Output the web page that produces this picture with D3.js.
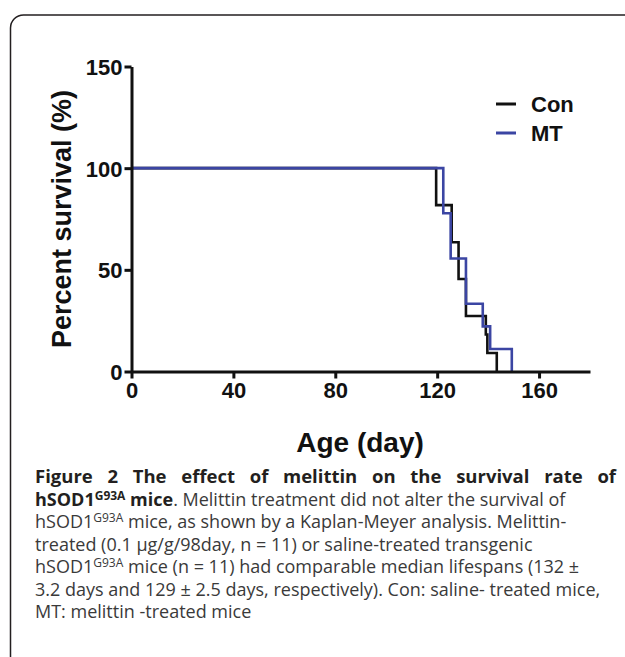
<!DOCTYPE html>
<html>
<head>
<meta charset="utf-8">
<script src="https://cdn.jsdelivr.net/npm/d3@7/dist/d3.min.js"></script>
<style>
  body { margin: 0; background: #fff; }
  svg { display: block; }
  .axis path, .axis line { stroke: #111; stroke-width: 3; }
  .axis text { font-family: "Liberation Sans", Arial, sans-serif; font-weight: bold; font-size: 22px; fill: #111; }
  .caption { font-family: "Open Sans", sans-serif; font-size: 18px; fill: #3a3a3a; }
  .caption .b { font-weight: bold; fill: #231f20; }
  .caption .sup { font-size: 12px; }
</style>
</head>
<body>
<div id="chart"></div>
<script>
// survival steps (day of drop, survival % before/after)
var conDays = [0, 119.6, 125.7, 128.4, 131.3, 139.1, 139.7, 143.4];
var conSurvival = [100, 81.8, 63.6, 45.5, 27.3, 18.2, 9.1, 0];
var mtDays = [0, 122.4, 125.3, 131.3, 137.9, 140.8, 149.3];
var mtSurvival = [100, 77.8, 55.6, 33.3, 22.2, 11.1, 0];

var xTicks = [0, 40, 80, 120, 160];
var yTicks = [0, 50, 100, 150];
var seriesNames = ["Con", "MT"];
var seriesColors = ["#111111", "#3b45a3"];

var width = 625;
var height = 657;

var svg = d3.select("#chart")
    .append("svg")
    .attr("width", width)
    .attr("height", height);

// frame with the rounded top-left corner
svg.append("path")
    .attr("d", "M10.5," + (height + 2) + " V28 A13,13 0 0 1 23.5,15 H" + (width + 2))
    .attr("fill", "none")
    .attr("stroke", "#231f20")
    .attr("stroke-width", 1.5);

var xScale = d3.scaleLinear()
    .domain([0, 180])
    .range([131.5, 590]);

var yScale = d3.scaleLinear()
    .domain([0, 150])
    .range([371.5, 66.5]);

// zip days/survival into step points
function steps(days, surv) {
    return days.map(function (d, i) { return { day: d, s: surv[i] }; });
}

var line = d3.line()
    .x(function (d) { return xScale(d.day); })
    .y(function (d) { return yScale(d.s); })
    .curve(d3.curveStepAfter);

var series = [steps(conDays, conSurvival), steps(mtDays, mtSurvival)];

svg.selectAll(".km")
    .data(series)
    .enter()
    .append("path")
    .attr("class", "km")
    .attr("d", line)
    .attr("fill", "none")
    .attr("stroke", function (d, i) { return seriesColors[i]; })
    .attr("stroke-width", 2.6);

var xAxis = svg.append("g")
    .attr("class", "axis")
    .attr("transform", "translate(0," + yScale(0) + ")")
    .call(d3.axisBottom(xScale).tickValues(xTicks).tickSize(7).tickSizeOuter(0).tickPadding(4));

var yAxis = svg.append("g")
    .attr("class", "axis")
    .attr("transform", "translate(" + xScale(0) + ",0)")
    .call(d3.axisLeft(yScale).tickValues(yTicks).tickSize(7).tickSizeOuter(0).tickPadding(2));

yAxis.selectAll("text").attr("dy", "0.36em");

svg.append("text")
    .attr("transform", "translate(71," + 219 + ") rotate(-90)")
    .attr("text-anchor", "middle")
    .style("font-family", "Liberation Sans, Arial, sans-serif")
    .style("font-weight", "bold")
    .style("font-size", "27px")
    .style("fill", "#111")
    .text("Percent survival (%)");

svg.append("text")
    .attr("x", 360)
    .attr("y", 452)
    .attr("text-anchor", "middle")
    .style("font-family", "Liberation Sans, Arial, sans-serif")
    .style("font-weight", "bold")
    .style("font-size", "28px")
    .style("fill", "#111")
    .text("Age (day)");

// legend
var legend = svg.append("g").attr("transform", "translate(496,104)");

legend.selectAll("line")
    .data(seriesNames)
    .enter()
    .append("line")
    .attr("x1", 0)
    .attr("x2", 20)
    .attr("y1", function (d, i) { return i * 29; })
    .attr("y2", function (d, i) { return i * 29; })
    .attr("stroke", function (d, i) { return seriesColors[i]; })
    .attr("stroke-width", 3);

legend.selectAll("text")
    .data(seriesNames)
    .enter()
    .append("text")
    .attr("x", 35)
    .attr("y", function (d, i) { return i * 29 + 8; })
    .style("font-family", "Liberation Sans, Arial, sans-serif")
    .style("font-weight", "bold")
    .style("font-size", "22px")
    .style("fill", "#111")
    .text(function (d) { return d; });

// caption
var cap = svg.append("g").attr("class", "caption");
var capX = 35;

// first line is justified: spread the extra room over the word gaps
var title = "Figure 2 The effect of melittin on the survival rate of";
var l1 = cap.append("text")
    .attr("x", capX).attr("y", 483)
    .attr("class", "b")
    .style("font-size", "18.5px")
    .text(title);
var gaps = title.split(" ").length - 1;
var extra = (616 - capX) - l1.node().getComputedTextLength();
l1.style("word-spacing", Math.max(0, extra / gaps) + "px");

function supLine(y, pre, post, bold) {
    var t = cap.append("text").attr("x", capX).attr("y", y);
    t.append("tspan").attr("class", bold ? "b" : null).text(pre);
    t.append("tspan").attr("class", bold ? "b sup" : "sup").attr("dy", -6).text("G93A");
    t.append("tspan").attr("class", bold ? "b" : null).attr("dy", 6).text(post);
    return t;
}

var l2 = supLine(506, "hSOD1", " mice", true);
l2.append("tspan").text(". Melittin treatment did not alter the survival of");

supLine(528, "hSOD1", " mice, as shown by a Kaplan-Meyer analysis. Melittin-", false);

cap.append("text").attr("x", capX).attr("y", 551)
    .text("treated (0.1 \u00b5g/g/98day, n = 11) or saline-treated transgenic");

supLine(573, "hSOD1", " mice (n = 11) had comparable median lifespans (132 \u00b1", false);

cap.append("text").attr("x", capX).attr("y", 596)
    .text("3.2 days and 129 \u00b1 2.5 days, respectively). Con: saline- treated mice,");

cap.append("text").attr("x", capX).attr("y", 618)
    .text("MT: melittin -treated mice");
</script>
</body>
</html>
